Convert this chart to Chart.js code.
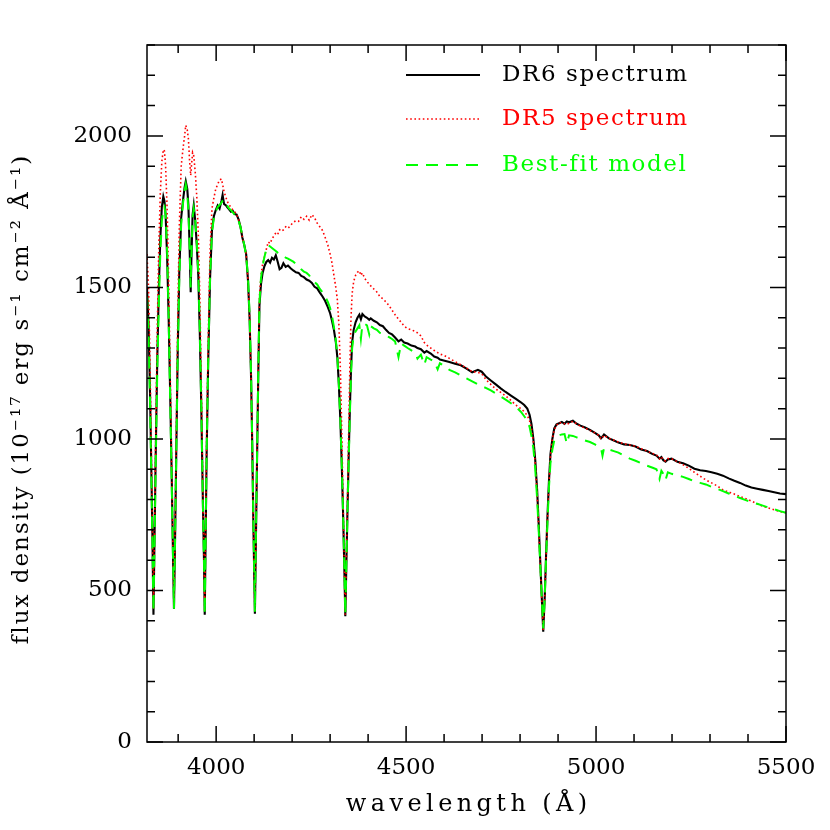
<!DOCTYPE html>
<html><head><meta charset="utf-8">
<script src="https://cdn.jsdelivr.net/npm/chart.js@4.4.1/dist/chart.umd.min.js"></script>
<style>html,body{margin:0;padding:0;background:#fff}</style>
</head><body>
<canvas id="c" width="830" height="830" style="display:block;width:830px;height:830px"></canvas>
<script>
const wavelength = [3818,3822,3826,3829,3832,3835,3838,3841,3845,3849,3853,3857,3861,3864,3867,3871,3875,3879,3883,3886,3889,3892,3895,3899,3903,3908,3913,3917,3920,3924,3927,3930,3933,3935,3938,3941,3945,3949,3953,3957,3961,3965,3968,3970,3972,3975,3979,3984,3989,3994,3999,4004,4009,4014,4017,4021,4025,4029,4034,4039,4044,4049,4054,4059,4064,4069,4074,4079,4084,4088,4092,4095,4098,4102,4105,4108,4111,4114,4118,4122,4127,4132,4137,4142,4147,4152,4157,4162,4167,4172,4177,4183,4189,4196,4203,4210,4217,4224,4231,4238,4245,4252,4259,4266,4273,4280,4287,4294,4300,4305,4310,4315,4319,4323,4327,4331,4334,4337,4340,4343,4346,4349,4352,4355,4358,4362,4367,4372,4377,4381,4385,4391,4397,4403,4407,4415,4423,4431,4439,4447,4455,4463,4471,4480,4487,4495,4504,4514,4524,4530,4539,4548,4554,4565,4574,4583,4589,4599,4614,4629,4644,4659,4674,4689,4699,4711,4723,4736,4749,4762,4776,4789,4802,4811,4819,4825,4830,4835,4840,4845,4849,4853,4857,4861,4865,4868,4872,4876,4880,4885,4890,4896,4903,4910,4917,4923,4929,4939,4949,4959,4971,4984,4997,5007,5013,5017,5021,5034,5047,5059,5074,5089,5104,5119,5134,5149,5159,5167,5172,5177,5183,5189,5199,5214,5229,5244,5259,5274,5289,5304,5319,5334,5349,5364,5379,5394,5409,5424,5439,5454,5469,5484,5500];
const dr6Flux = [1500,1380,1150,930,700,420,690,950,1260,1490,1660,1765,1800,1785,1740,1600,1400,1150,880,650,440,680,950,1300,1550,1730,1790,1830,1850,1825,1770,1640,1484,1600,1740,1771,1720,1640,1540,1350,1100,800,600,420,640,950,1250,1530,1690,1735,1755,1770,1760,1785,1805,1775,1772,1765,1758,1750,1752,1742,1740,1725,1700,1665,1640,1610,1520,1400,1200,980,720,423,700,960,1220,1440,1510,1546,1570,1584,1590,1582,1598,1592,1606,1585,1560,1565,1580,1568,1572,1563,1556,1550,1548,1538,1534,1526,1522,1515,1502,1497,1483,1470,1455,1435,1415,1390,1360,1320,1270,1180,1060,900,760,600,415,600,780,950,1100,1230,1320,1360,1385,1400,1410,1395,1412,1404,1400,1393,1398,1390,1385,1376,1372,1360,1350,1345,1335,1322,1328,1318,1315,1308,1305,1300,1296,1285,1290,1282,1272,1268,1262,1259,1254,1248,1243,1232,1220,1228,1222,1205,1193,1180,1167,1155,1143,1132,1121,1112,1100,1080,1050,1000,930,830,720,600,480,364,480,600,740,860,950,1000,1035,1048,1052,1056,1050,1058,1055,1060,1050,1044,1038,1030,1020,1012,1002,1008,1015,1002,995,988,982,980,975,965,960,950,945,935,940,930,925,932,935,925,920,912,902,897,894,890,885,879,870,862,855,846,840,836,832,828,824,820,818];
const dr5Flux = [1610,1500,1250,990,730,440,720,1000,1360,1630,1810,1915,1955,1950,1900,1760,1520,1220,900,660,450,700,1000,1400,1700,1900,1960,2000,2035,2020,1990,1920,1870,1900,1945,1935,1880,1800,1680,1470,1180,830,620,430,670,1000,1320,1620,1760,1795,1825,1840,1855,1858,1840,1815,1800,1785,1772,1765,1755,1750,1740,1725,1700,1665,1640,1610,1520,1400,1200,980,720,430,710,970,1240,1470,1540,1575,1600,1625,1650,1645,1660,1670,1680,1675,1690,1685,1690,1700,1695,1705,1715,1720,1718,1733,1725,1735,1722,1740,1730,1712,1700,1688,1665,1640,1610,1580,1540,1500,1460,1380,1230,1000,800,610,420,620,820,1030,1240,1400,1480,1520,1540,1550,1555,1540,1548,1530,1520,1510,1505,1495,1485,1470,1462,1452,1440,1425,1410,1395,1385,1372,1364,1360,1355,1350,1340,1318,1310,1300,1292,1285,1280,1276,1266,1255,1245,1234,1222,1220,1215,1195,1180,1165,1154,1142,1127,1112,1100,1090,1078,1060,1035,990,920,820,710,590,475,370,475,590,730,850,945,1000,1030,1045,1055,1052,1050,1048,1052,1058,1050,1042,1036,1028,1020,1012,1000,1005,1012,1002,996,990,984,980,976,968,960,952,948,935,942,930,928,935,935,925,915,903,890,877,865,855,845,832,825,818,810,803,795,786,778,772,766,760,757];
const modelFlux = [1470,1350,1120,900,680,430,670,920,1220,1440,1610,1720,1755,1765,1740,1620,1400,1130,860,640,440,680,940,1280,1530,1710,1780,1820,1840,1810,1750,1640,1500,1610,1730,1760,1720,1650,1550,1360,1100,790,600,420,640,950,1250,1530,1680,1730,1750,1765,1772,1780,1786,1790,1780,1770,1760,1755,1748,1740,1735,1720,1700,1670,1640,1605,1530,1410,1210,990,730,430,710,970,1230,1450,1530,1570,1600,1625,1640,1635,1630,1625,1620,1615,1612,1610,1605,1598,1595,1590,1585,1578,1570,1560,1552,1548,1540,1525,1518,1510,1495,1484,1470,1452,1432,1405,1370,1325,1275,1180,1060,900,760,600,420,600,770,930,1080,1210,1300,1340,1355,1365,1375,1330,1378,1380,1375,1345,1372,1365,1360,1350,1348,1342,1336,1330,1322,1270,1315,1308,1300,1292,1285,1265,1278,1245,1270,1262,1256,1230,1250,1242,1228,1220,1210,1200,1190,1180,1174,1168,1160,1150,1140,1130,1118,1106,1090,1075,1060,1040,1010,970,900,800,700,590,480,375,480,590,720,840,920,965,995,1005,1012,1015,1016,985,1012,1010,1005,1000,995,990,982,975,970,945,970,965,960,955,945,935,928,920,912,905,900,868,895,885,865,890,885,880,875,868,860,855,850,842,835,828,820,812,805,798,792,786,780,774,768,762,756];
const seriesLabels = ['DR6 spectrum', 'DR5 spectrum', 'Best-fit model'];
const seriesColors = ['#000000', '#ff0000', '#00ff00'];
const xTickValues = [4000, 4500, 5000, 5500];
const yTickValues = [0, 500, 1000, 1500, 2000];
const xRange = [3818, 5500];
const yRange = [0, 2300];
const minorStep = 100;
const xTitle = 'wavelength (Å)';
const yTitle = 'flux density (10⁻¹⁷ erg s⁻¹ cm⁻² Å⁻¹)';

const toPoints = (ys) => wavelength.map((w, i) => ({x: w, y: ys[i]}));
const FONT = {family: 'DejaVu Serif', size: 23};
const fontStr = FONT.size + 'px "' + FONT.family + '"';

function spacedText(ctx, text, x, y, spacing, align) {
  ctx.letterSpacing = spacing + 'px';
  const w = ctx.measureText(text).width - (align === 'center' ? spacing : 0);
  ctx.textAlign = 'left';
  const x0 = align === 'center' ? x - w / 2 : x;
  ctx.fillText(text, x0, y);
  ctx.letterSpacing = '0px';
}

const frameTicksLegend = {
  id: 'frameTicksLegend',
  afterDatasetsDraw(chart) {
    const {ctx, chartArea: a, scales: {x, y}} = chart;
    ctx.save();
    ctx.strokeStyle = '#000';
    ctx.lineWidth = 1.5;
    ctx.setLineDash([]);
    ctx.strokeRect(a.left, a.top, a.right - a.left, a.bottom - a.top);
    ctx.beginPath();
    for (let v = Math.ceil(x.min / minorStep) * minorStep; v <= x.max; v += minorStep) {
      const p = x.getPixelForValue(v);
      const len = xTickValues.includes(v) ? 16 : 8;
      ctx.moveTo(p, a.bottom); ctx.lineTo(p, a.bottom - len);
      ctx.moveTo(p, a.top); ctx.lineTo(p, a.top + len);
    }
    for (let v = Math.ceil(y.min / minorStep) * minorStep; v <= y.max; v += minorStep) {
      const p = y.getPixelForValue(v);
      const len = yTickValues.includes(v) ? 16 : 8;
      ctx.moveTo(a.left, p); ctx.lineTo(a.left + len, p);
      ctx.moveTo(a.right, p); ctx.lineTo(a.right - len, p);
    }
    ctx.stroke();
    // axis titles
    ctx.fillStyle = '#000';
    ctx.textBaseline = 'middle';
    ctx.font = '24px "' + FONT.family + '"';
    spacedText(ctx, xTitle, (a.left + a.right) / 2, 805, 4.4, 'center');
    ctx.font = fontStr;
    ctx.save();
    ctx.translate(22, 400);
    ctx.rotate(-Math.PI / 2);
    spacedText(ctx, yTitle, 0, 0, 2, 'center');
    ctx.restore();
    // legend inside plot
    const rows = [75, 119, 165];
    chart.data.datasets.forEach((ds, i) => {
      ctx.save();
      ctx.strokeStyle = ds.borderColor;
      ctx.lineWidth = ds.borderWidth;
      ctx.setLineDash(ds.borderDash || []);
      ctx.beginPath();
      ctx.moveTo(406, rows[i]); ctx.lineTo(480, rows[i]);
      ctx.stroke();
      ctx.fillStyle = ds.borderColor;
      ctx.font = fontStr;
      ctx.textBaseline = 'middle';
      spacedText(ctx, ds.label, 502, rows[i], 1.6, 'left');
      ctx.restore();
    });
    ctx.restore();
  }
};

new Chart(document.getElementById('c'), {
  type: 'line',
  data: {
    datasets: [
      {label: seriesLabels[0], data: toPoints(dr6Flux), borderColor: seriesColors[0], borderWidth: 2.1, pointRadius: 0, tension: 0, order: 2},
      {label: seriesLabels[1], data: toPoints(dr5Flux), borderColor: seriesColors[1], borderWidth: 1.6, borderDash: [1.6, 2.6], pointRadius: 0, tension: 0, order: 1},
      {label: seriesLabels[2], data: toPoints(modelFlux), borderColor: seriesColors[2], borderWidth: 2, borderDash: [12, 8], pointRadius: 0, tension: 0, order: 0}
    ]
  },
  options: {
    responsive: false,
    animation: false,
    devicePixelRatio: 1,
    layout: {padding: {left: 0, right: 44, top: 45, bottom: 0}},
    plugins: {legend: {display: false}, tooltip: {enabled: false}},
    scales: {
      x: {
        type: 'linear', min: xRange[0], max: xRange[1],
        afterBuildTicks: s => { s.ticks = xTickValues.map(v => ({value: v})); },
        afterFit: s => { s.height = 88; },
        grid: {display: false, drawTicks: false},
        border: {display: false},
        ticks: {padding: 12, color: '#000', font: FONT, maxRotation: 0, autoSkip: false, callback: v => String(v)},
        title: {display: false}
      },
      y: {
        type: 'linear', min: yRange[0], max: yRange[1],
        afterBuildTicks: s => { s.ticks = yTickValues.map(v => ({value: v})); },
        afterFit: s => { s.width = 147; },
        grid: {display: false, drawTicks: false},
        border: {display: false},
        ticks: {padding: 15, color: '#000', font: FONT, autoSkip: false, callback: v => String(v)},
        title: {display: false}
      }
    }
  },
  plugins: [frameTicksLegend]
});
</script>
</body></html>
